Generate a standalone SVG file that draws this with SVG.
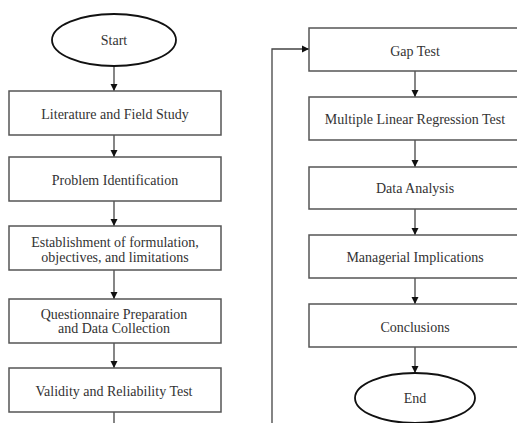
<svg xmlns="http://www.w3.org/2000/svg" width="517" height="423" viewBox="0 0 517 423">
<style>
  .box { fill: #fff; stroke: #555; stroke-width: 1.5; }
  .term { fill: #fff; stroke: #111; stroke-width: 1.8; }
  text { font-family: 'Liberation Serif', 'DejaVu Serif', serif; font-size: 14px; fill: #333; text-anchor: middle; }
  .conn { fill: none; stroke: #444; stroke-width: 1.3; }
</style>
<defs>
  <marker id="arr" markerWidth="8" markerHeight="8" refX="7" refY="4" orient="auto" markerUnits="userSpaceOnUse">
    <path d="M0,0.5 L7,4 L0,7.5 Z" fill="#111"/>
  </marker>
</defs>
<rect width="517" height="423" fill="#fff"/>
<g id="connectors">
  <line class="conn" x1="114" y1="66" x2="114" y2="91" marker-end="url(#arr)"/>
  <line class="conn" x1="114" y1="135" x2="114" y2="157" marker-end="url(#arr)"/>
  <line class="conn" x1="114" y1="201" x2="114" y2="226" marker-end="url(#arr)"/>
  <line class="conn" x1="114" y1="270" x2="114" y2="299" marker-end="url(#arr)"/>
  <line class="conn" x1="114" y1="343" x2="114" y2="368" marker-end="url(#arr)"/>
  <line class="conn" x1="114" y1="412" x2="114" y2="423"/>
  <polyline class="conn" points="272,423 272,49 309,49" marker-end="url(#arr)"/>
  <line class="conn" x1="415" y1="71" x2="415" y2="97" marker-end="url(#arr)"/>
  <line class="conn" x1="415" y1="140" x2="415" y2="167" marker-end="url(#arr)"/>
  <line class="conn" x1="415" y1="209" x2="415" y2="235" marker-end="url(#arr)"/>
  <line class="conn" x1="415" y1="278" x2="415" y2="304" marker-end="url(#arr)"/>
  <line class="conn" x1="415" y1="347" x2="415" y2="373" marker-end="url(#arr)"/>
</g>
<g id="start">
  <ellipse class="term" cx="114" cy="40" rx="62" ry="26"/>
  <text x="114" y="45">Start</text>
</g>
<g id="literature">
  <rect class="box" x="9" y="91" width="212" height="44"/>
  <text x="115" y="118.5">Literature and Field Study</text>
</g>
<g id="problem">
  <rect class="box" x="9" y="157" width="212" height="44"/>
  <text x="115" y="184.5">Problem Identification</text>
</g>
<g id="establishment">
  <rect class="box" x="9" y="226" width="212" height="44"/>
  <text x="115" y="246.5">Establishment of formulation,</text>
  <text x="115" y="261.5">objectives, and limitations</text>
</g>
<g id="questionnaire">
  <rect class="box" x="9" y="299" width="212" height="44"/>
  <text x="114" y="318.5">Questionnaire Preparation</text>
  <text x="114" y="332.5">and Data Collection</text>
</g>
<g id="validity">
  <rect class="box" x="9" y="368" width="212" height="44"/>
  <text x="114" y="395.5">Validity and Reliability Test</text>
</g>
<g id="gap">
  <rect class="box" x="309" y="28" width="214" height="43"/>
  <text x="415" y="55.5">Gap Test</text>
</g>
<g id="mlr">
  <rect class="box" x="309" y="97" width="214" height="43"/>
  <text x="415" y="123.5">Multiple Linear Regression Test</text>
</g>
<g id="analysis">
  <rect class="box" x="309" y="167" width="214" height="42"/>
  <text x="415" y="192.5">Data Analysis</text>
</g>
<g id="managerial">
  <rect class="box" x="309" y="235" width="214" height="43"/>
  <text x="415" y="261.5">Managerial Implications</text>
</g>
<g id="conclusions">
  <rect class="box" x="309" y="304" width="214" height="43"/>
  <text x="415" y="331.5">Conclusions</text>
</g>
<g id="end">
  <ellipse class="term" cx="415" cy="398" rx="60" ry="25"/>
  <text x="415" y="402.5">End</text>
</g>
</svg>
